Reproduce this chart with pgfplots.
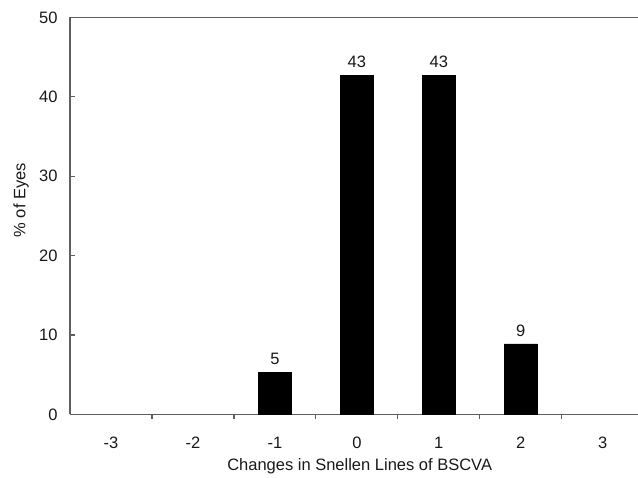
\documentclass[border=0pt]{standalone}
\usepackage{pgfplots}
\pgfplotsset{compat=1.18}
\usepackage{fontspec}
\setmainfont{Liberation Sans}
\definecolor{axgray}{RGB}{95,95,95}
\begin{document}
\begin{tikzpicture}
\begin{axis}[
  at={(0,0)}, anchor=south west,
  scale only axis,
  width=568pt, height=397pt,
  xmin=-3.5, xmax=3.43,
  ymin=0, ymax=50,
  axis x line=box,
  axis y line=left,
  axis line style={axgray, line width=1.4pt, -},
  every tick/.style={axgray, line width=1.2pt},
  xtick={-3,-2,-1,0,1,2,3},
  major x tick style={draw=none},
  minor xtick={-2.5,-1.5,-0.5,0.5,1.5,2.5},
  minor tick length=5pt,
  ytick={0,10,20,30,40,50},
  major tick length=5pt,
  tick align=inside,
  xtick pos=lower, ytick pos=left,
  /pgf/number format/assume math mode=true,
  tick label style={font=\fontsize{16.5}{19}\selectfont, text=black!90},
  xticklabel style={yshift=-14pt},
  yticklabel style={xshift=-9pt},
  xlabel={Changes in Snellen Lines of BSCVA},
  ylabel={\% of Eyes},
  label style={font=\fontsize{16.5}{19}\selectfont, text=black!90},
  xlabel style={at={(axis description cs:0.51,0)}, anchor=center, yshift=-52pt},
  ylabel style={at={(axis description cs:-0.086,0.54)}, anchor=center},
  ybar,
  bar width=33pt,
  nodes near coords,
  point meta=explicit symbolic,
  nodes near coords style={font=\fontsize{16.5}{19}\selectfont, text=black!90, anchor=south, yshift=4pt},
  clip=false,
]
\addplot[fill=black, draw=black] coordinates {(-1,5.3) [5] (0,42.7) [43] (1,42.7) [43] (2,8.9) [9]};
\end{axis}
\pgfresetboundingbox
\useasboundingbox (-70pt,-63.3pt) rectangle (568pt,414.5pt);
\end{tikzpicture}
\end{document}
